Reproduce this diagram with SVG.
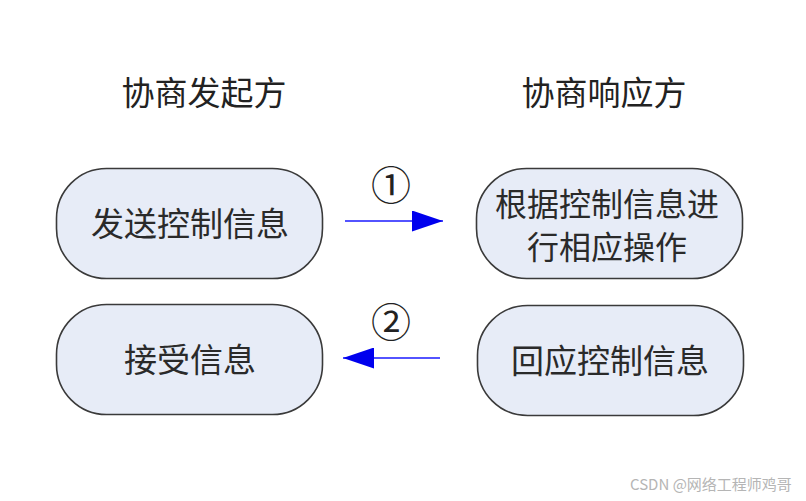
<svg xmlns="http://www.w3.org/2000/svg" width="806" height="501" viewBox="0 0 806 501">
<defs>
<style>
.node rect{fill:#e7ecf7;stroke:#3a3a3a;stroke-width:1.6}
.t{font-family:"Noto Sans CJK SC",sans-serif;font-size:33px;fill:#2a2a2a;text-anchor:middle;dominant-baseline:central}
.t2{font-size:32px}
.h{font-family:"Noto Sans CJK SC",sans-serif;font-size:33px;fill:#222;text-anchor:middle;dominant-baseline:central}
.c{font-family:"Liberation Serif","Noto Sans CJK SC",serif;font-size:40px;fill:#222;text-anchor:middle;dominant-baseline:central}
.ln{stroke:#1a1aff;stroke-width:1.6;fill:none}
.wm{font-family:"Noto Sans CJK SC",sans-serif;font-size:15px;fill:#b5b5b5}
</style>
<marker id="ah" viewBox="0 0 10 10" refX="10" refY="5" markerWidth="31" markerHeight="21" markerUnits="userSpaceOnUse" orient="auto" preserveAspectRatio="none">
<path d="M0,0 L10,5 L0,10 Z" fill="#0000ee"/>
</marker>
</defs>
<rect width="806" height="501" fill="#ffffff"/>
<text class="h" x="204" y="91">协商发起方</text>
<text class="h" x="604" y="91">协商响应方</text>
<g id="send" class="node"><rect x="56.5" y="168.5" width="266" height="110" rx="50" ry="50"/><text class="t" x="190" y="222">发送控制信息</text></g>
<g id="operate" class="node"><rect x="476.5" y="168.5" width="266" height="110" rx="50" ry="50"/><text class="t t2" x="607" y="202">根据控制信息进</text><text class="t t2" x="607" y="245">行相应操作</text></g>
<g id="receive" class="node"><rect x="56.5" y="304.5" width="266" height="110" rx="50" ry="50"/><text class="t" x="190" y="358">接受信息</text></g>
<g id="reply" class="node"><rect x="477.5" y="305.5" width="266" height="110" rx="50" ry="50"/><text class="t" x="610" y="359">回应控制信息</text></g>
<g id="connectors">
<line class="ln" x1="345" y1="221" x2="443" y2="221" marker-end="url(#ah)"/>
<text class="c" x="391" y="186">①</text>
<line class="ln" x1="440" y1="358" x2="343" y2="358" marker-end="url(#ah)"/>
<text class="c" x="391" y="323">②</text>
</g>
<text class="wm" x="630" y="490">CSDN @网络工程师鸡哥</text>
</svg>
